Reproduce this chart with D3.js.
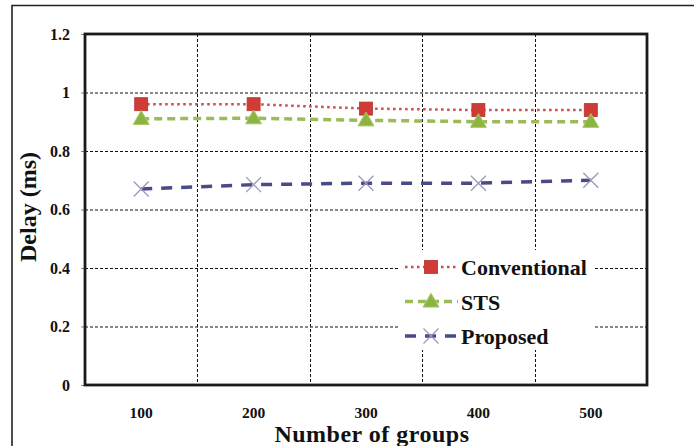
<!DOCTYPE html>
<html>
<head>
<meta charset="utf-8">
<script src="https://cdn.jsdelivr.net/npm/d3@7"></script>
<style>
  html, body { margin: 0; padding: 0; background: #fff; }
  svg { display: block; }
</style>
</head>
<body>
<svg id="chart" width="694" height="446"></svg>
<script>
// Delay versus number of groups for three schemes
const groups = ["100", "200", "300", "400", "500"];
const conventional = [0.96, 0.96, 0.945, 0.94, 0.94];
const sts = [0.91, 0.912, 0.905, 0.90, 0.90];
const proposed = [0.67, 0.685, 0.69, 0.69, 0.70];
const yTicks = [0, 0.2, 0.4, 0.6, 0.8, 1, 1.2];
const seriesNames = ["Conventional", "STS", "Proposed"];

const FONT = "'Liberation Serif', 'Times New Roman', serif";
const svg = d3.select("#chart");
const W = 694, H = 446;
const plot = { left: 85, right: 647, top: 34, bottom: 385 };

// outer frame (only top and left edges fall inside the view)
svg.append("path")
  .attr("d", `M12,${H + 5} L12,5.5 L${W + 5},5.5`)
  .attr("fill", "none").attr("stroke", "#222").attr("stroke-width", 1.6);

const x = d3.scaleBand().domain(groups).range([plot.left, plot.right]);
const y = d3.scaleLinear().domain([0, 1.2]).range([plot.bottom, plot.top]);

// horizontal grid
svg.append("g").selectAll("line")
  .data(yTicks.filter(t => t > 0 && t < 1.2))
  .join("line")
  .attr("x1", plot.left).attr("x2", plot.right)
  .attr("y1", d => y(d) + 0.5).attr("y2", d => y(d) + 0.5)
  .attr("stroke", "#111").attr("stroke-width", 1).attr("stroke-dasharray", "3,2");

// vertical grid at band boundaries
svg.append("g").selectAll("line")
  .data(groups.slice(1))
  .join("line")
  .attr("x1", d => Math.round(x(d)) + 0.5).attr("x2", d => Math.round(x(d)) + 0.5)
  .attr("y1", plot.top).attr("y2", plot.bottom)
  .attr("stroke", "#111").attr("stroke-width", 1).attr("stroke-dasharray", "3,2");

// y axis ticks and labels
const yAxis = d3.axisLeft(y).tickValues(yTicks).tickSize(4).tickPadding(11)
  .tickFormat(d => d === 0 ? "0" : d === 1 ? "1" : d3.format(".1f")(d));
const gy = svg.append("g").attr("transform", `translate(${plot.left},0)`).call(yAxis)
  .attr("font-family", FONT).attr("font-weight", "bold").attr("font-size", 16);
gy.select(".domain").remove();
gy.selectAll(".tick line").attr("stroke", "#888");
gy.selectAll(".tick text").attr("fill", "#111");

// x axis labels
const xAxis = d3.axisBottom(x).tickSize(0).tickPadding(22);
const gx = svg.append("g").attr("transform", `translate(0,${plot.bottom})`).call(xAxis)
  .attr("font-family", FONT).attr("font-weight", "bold").attr("font-size", 15.5);
gx.select(".domain").remove();
gx.selectAll(".tick text").attr("fill", "#111");

// plot frame
svg.append("rect")
  .attr("x", plot.left).attr("y", plot.top)
  .attr("width", plot.right - plot.left).attr("height", plot.bottom - plot.top)
  .attr("fill", "none").attr("stroke", "#1a1a1a").attr("stroke-width", 2.8);

// axis titles
svg.append("text")
  .attr("transform", `translate(36,207) rotate(-90)`)
  .attr("text-anchor", "middle")
  .attr("font-family", FONT).attr("font-weight", "bold").attr("font-size", 24).attr("fill", "#111")
  .text("Delay (ms)");
svg.append("text")
  .attr("x", 372).attr("y", 442)
  .attr("text-anchor", "middle")
  .attr("font-family", FONT).attr("font-weight", "bold").attr("font-size", 24).attr("fill", "#111")
  .attr("letter-spacing", 0.5)
  .text("Number of groups");

// series definitions
const series = [
  { name: seriesNames[0], values: conventional, color: "#c0504d", dash: "2.5,3.5", width: 2.5, marker: "square" },
  { name: seriesNames[1], values: sts, color: "#9bbb59", dash: "8,5", width: 3.5, marker: "triangle" },
  { name: seriesNames[2], values: proposed, color: "#4a4a86", dash: "11,9", width: 3.5, marker: "cross" }
];

const line = d3.line().x((d, i) => x(groups[i]) + x.bandwidth() / 2).y(d => y(d));

function drawMarker(g, type, cx, cy) {
  if (type === "square") {
    g.append("rect").attr("x", cx - 6.5).attr("y", cy - 6.5).attr("width", 13).attr("height", 13)
      .attr("fill", "#d03b36").attr("stroke", "#b8322e").attr("stroke-width", 0.8);
  } else if (type === "triangle") {
    const s = d3.symbol().type(d3.symbolTriangle).size(110);
    g.append("path").attr("d", s()).attr("transform", `translate(${cx},${cy + 1})`)
      .attr("fill", "#8db441").attr("stroke", "#a6c866").attr("stroke-width", 1);
  } else {
    const r = 7.5;
    g.append("path")
      .attr("d", `M${cx - r},${cy - r}L${cx + r},${cy + r}M${cx - r},${cy + r}L${cx + r},${cy - r}`)
      .attr("stroke", "#9a9ac0").attr("stroke-width", 1.3).attr("fill", "none");
  }
}

series.forEach(s => {
  const g = svg.append("g");
  g.append("path").datum(s.values).attr("d", line)
    .attr("fill", "none").attr("stroke", s.color).attr("stroke-width", s.width)
    .attr("stroke-dasharray", s.dash);
  s.values.forEach((v, i) => drawMarker(g, s.marker, x(groups[i]) + x.bandwidth() / 2, y(v)));
});

// legend
const legend = svg.append("g");
legend.append("rect").attr("x", 400).attr("y", 250).attr("width", 193).attr("height", 100).attr("fill", "#fff");
const legendY = [267, 301.5, 336];
series.forEach((s, i) => {
  const ly = legendY[i];
  legend.append("line").attr("x1", 405).attr("x2", 458).attr("y1", ly).attr("y2", ly)
    .attr("stroke", s.color).attr("stroke-width", s.width)
    .attr("stroke-dasharray", s.dash);
  drawMarker(legend, s.marker, 431, ly);
  legend.append("text").attr("x", 461).attr("y", ly + 8)
    .attr("font-family", FONT).attr("font-weight", "bold").attr("font-size", 22).attr("fill", "#111")
    .text(s.name);
});
</script>
</body>
</html>
